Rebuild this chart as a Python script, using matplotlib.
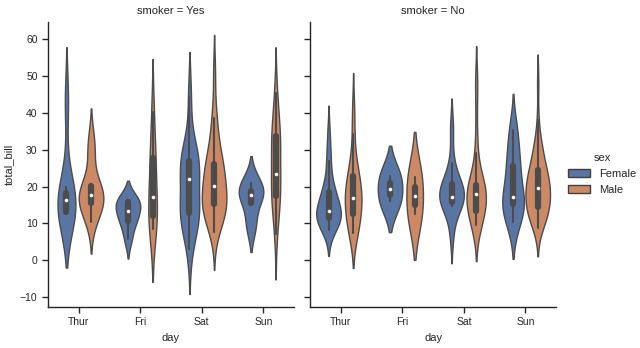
import numpy as np
import pandas as pd
import matplotlib
matplotlib.use("Agg")
import matplotlib.pyplot as plt
from matplotlib.patches import Patch
import seaborn as sns

# --------------------
# Data: total_bill per (smoker, day, sex)
# --------------------
days = ["Thur", "Fri", "Sat", "Sun"]
sexes = ["Female", "Male"]
smokers = ["Yes", "No"]

yes_thur_f = [19.81, 43.11, 13.0, 12.74, 13.0, 16.4, 16.47]
yes_thur_m = [19.44, 32.68, 16.0, 28.44, 15.48, 16.58, 10.34, 13.51, 18.71, 20.53]
yes_fri_f = [5.75, 16.32, 11.35, 15.38, 13.42, 16.27, 10.09]
yes_fri_m = [28.97, 40.17, 27.28, 12.03, 21.01, 12.16, 8.58, 13.42]
yes_sat_f = [3.07, 26.86, 25.28, 44.3, 22.42, 14.31, 10.59, 10.63, 12.76, 13.27,
             28.17, 12.9, 30.14, 22.12, 27.18]
yes_sat_m = [38.01, 11.24, 20.29, 13.81, 11.02, 18.29, 15.01, 17.92, 15.36, 20.49,
             25.21, 50.81, 15.81, 26.59, 38.73, 24.27, 30.06, 25.89, 28.15, 11.59,
             7.74, 24.01, 15.69, 15.53, 12.6, 32.83, 22.67]
yes_sun_f = [17.51, 9.6, 20.9, 18.15]
yes_sun_m = [7.25, 31.85, 16.82, 32.9, 17.89, 14.48, 34.63, 34.65, 23.33, 45.35,
             23.17, 40.55, 30.46, 23.1, 15.69]

no_thur_f = [10.07, 34.83, 10.65, 12.43, 24.08, 13.42, 12.48, 29.8, 14.52, 11.38,
             20.27, 11.17, 12.26, 18.26, 8.51, 10.33, 14.15, 13.16, 17.47, 27.05,
             16.43, 8.35, 18.64, 11.87, 18.78]
no_thur_m = [27.2, 22.76, 17.29, 16.66, 15.98, 13.03, 18.28, 24.71, 21.16, 11.69,
             14.26, 15.95, 8.52, 22.82, 19.08, 34.3, 41.19, 9.78, 7.51, 7.56]
no_fri_f = [22.75, 15.98]
no_fri_m = [22.49, 12.46]
no_sat_f = [20.29, 15.77, 19.65, 15.06, 20.69, 16.93, 26.41, 16.45, 17.07, 14.73,
            20.92, 7.25, 35.83]
no_sat_m = [20.65, 17.92, 39.42, 19.82, 17.81, 13.37, 12.69, 21.7, 9.55, 18.35,
            17.78, 24.06, 16.31, 18.69, 31.27, 16.04, 48.27, 17.59, 20.08, 20.23,
            12.02, 10.51, 18.24, 14.0, 48.33, 20.45, 13.28, 11.61, 10.77, 10.07,
            29.03, 17.82]
no_sun_f = [16.99, 24.59, 35.26, 14.83, 10.33, 16.97, 10.29, 34.81, 25.71, 17.31,
            29.85, 25.0, 13.39, 16.21]
no_sun_m = [10.34, 21.01, 23.68, 25.29, 8.77, 26.88, 15.04, 14.78, 10.27, 15.42,
            18.43, 21.58, 16.29, 17.46, 13.94, 9.68, 30.4, 18.29, 22.23, 32.4,
            28.55, 18.04, 12.54, 9.94, 25.56, 19.49, 38.07, 23.95, 29.93, 14.07,
            13.13, 17.26, 24.55, 19.77, 48.17, 16.49, 21.5, 12.66, 13.81, 24.52,
            20.76, 31.71, 20.69]

groups = {
    ("Yes", "Thur", "Female"): yes_thur_f, ("Yes", "Thur", "Male"): yes_thur_m,
    ("Yes", "Fri", "Female"): yes_fri_f, ("Yes", "Fri", "Male"): yes_fri_m,
    ("Yes", "Sat", "Female"): yes_sat_f, ("Yes", "Sat", "Male"): yes_sat_m,
    ("Yes", "Sun", "Female"): yes_sun_f, ("Yes", "Sun", "Male"): yes_sun_m,
    ("No", "Thur", "Female"): no_thur_f, ("No", "Thur", "Male"): no_thur_m,
    ("No", "Fri", "Female"): no_fri_f, ("No", "Fri", "Male"): no_fri_m,
    ("No", "Sat", "Female"): no_sat_f, ("No", "Sat", "Male"): no_sat_m,
    ("No", "Sun", "Female"): no_sun_f, ("No", "Sun", "Male"): no_sun_m,
}

rows = []
for (smk, day, sex), vals in groups.items():
    for v in vals:
        rows.append((v, sex, smk, day))
tips = pd.DataFrame(rows, columns=["total_bill", "sex", "smoker", "day"])

# --------------------
# Plot
# --------------------
sns.set_theme(style="ticks")
plt.rcParams["font.family"] = ["Liberation Sans", "DejaVu Sans"]
plt.rcParams.update({
    "axes.labelsize": 8,
    "axes.titlesize": 8,
    "xtick.labelsize": 7.5,
    "ytick.labelsize": 7.5,
    "legend.fontsize": 8,
    "legend.title_fontsize": 8,
    "axes.linewidth": 1.0,
    "xtick.major.width": 1.0,
    "ytick.major.width": 1.0,
    "xtick.major.size": 4,
    "ytick.major.size": 4,
})

palette = sns.color_palette("deep", 2)
fig, axes = plt.subplots(1, 2, figsize=(6.4, 3.48), sharey=True)

for ax, smk in zip(axes, smokers):
    sub = tips[tips["smoker"] == smk]
    # one call per day so the width scaling is shared only by the two sexes
    # of that day (old seaborn "scale_hue" behaviour)
    for day in days:
        d = sub[sub["day"] == day]
        sns.violinplot(data=d, x="day", y="total_bill", hue="sex",
                       order=days, hue_order=sexes, palette=palette,
                       common_norm=True, linewidth=1.0, legend=False,
                       inner_kws=dict(marker="o", markersize=2.2,
                                      markeredgewidth=0.4),
                       ax=ax)
    ax.set_title(f"smoker = {smk}")
    ax.set_xlabel("day")
    ax.set_ylabel("total_bill" if smk == "Yes" else "")
    sns.despine(ax=ax)

axes[1].tick_params(labelleft=False)

fig.subplots_adjust(left=0.075, right=0.869, bottom=0.118, top=0.937, wspace=0.065)

handles = [Patch(facecolor=sns.desaturate(c, 0.75), edgecolor="#3f3f3f", linewidth=1.0)
           for c in palette]
fig.legend(handles, sexes, title="sex", loc="center left",
           bbox_to_anchor=(0.872, 0.5), frameon=False)

plt.savefig("out.png", dpi=100)
